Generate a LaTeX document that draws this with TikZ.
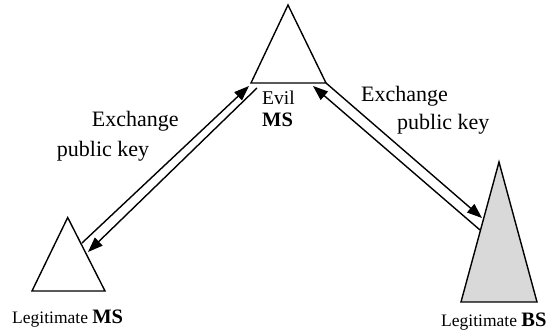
\documentclass[tikz,border=0pt]{standalone}
\usepackage{fontspec}
\setmainfont{Liberation Serif}
\usetikzlibrary{arrows.meta}
\newcommand{\mybigbf}{\fontsize{20.5}{24}\selectfont\bfseries}
\begin{document}
\begin{tikzpicture}[x=1pt,y=-1pt,
  tri/.style={draw=black,line width=1.4pt,line join=miter},
  link/.style={draw=black,line width=1.4pt,-{Triangle[length=15pt,width=11pt]}},
  lbl/.style={inner sep=0pt,anchor=base west,font=\fontsize{22}{26}\selectfont},
  small/.style={inner sep=0pt,anchor=base west,font=\fontsize{17.5}{21}\selectfont}]
\useasboundingbox (0,0) rectangle (547,331);
% triangles
\coordinate (eA) at (288,5);
\coordinate (eL) at (251,83);
\coordinate (eR) at (326,83);
\coordinate (mA) at (67.7,217.5);
\coordinate (mL) at (32,291);
\coordinate (mR) at (105,291);
\coordinate (bA) at (499,162);
\coordinate (bL) at (461,302);
\coordinate (bR) at (537,302);
\draw[tri] (eA) -- (eL) -- (eR) -- cycle;
\draw[tri] (mA) -- (mL) -- (mR) -- cycle;
\draw[tri,fill={rgb,255:red,217;green,217;blue,217}] (bA) -- (bL) -- (bR) -- cycle;
% connector end points
\coordinate (l1s) at (82,243);
\coordinate (l1e) at (249,86);
\coordinate (l2s) at (257,88);
\coordinate (l2e) at (88,252);
\coordinate (r1s) at (326,83);
\coordinate (r1e) at (482,218);
\coordinate (r2s) at (480,230);
\coordinate (r2e) at (313,86);
\draw[link] (l1s) -- (l1e);
\draw[link] (l2s) -- (l2e);
\draw[link] (r1s) -- (r1e);
\draw[link] (r2s) -- (r2e);
% labels
\node[lbl] (ex1) at (91.7,126.7) {Exchange};
\node[lbl] (pk1) at (56.7,156.7) {public key};
\node[lbl] (ex2) at (361,101.7) {Exchange};
\node[lbl] (pk2) at (397,130) {public key};
\node[inner sep=0pt,anchor=base west,font=\fontsize{19.5}{23}\selectfont] (evil) at (262,105) {Evil};
\node[inner sep=0pt,anchor=base west,font=\mybigbf] (ems) at (262,126.7) {MS};
\node[small] (lms) at (12,323.3) {Legitimate {\mybigbf MS}};
\node[small] (lbs) at (441,327) {Legitimate {\mybigbf BS}};
\end{tikzpicture}
\end{document}
